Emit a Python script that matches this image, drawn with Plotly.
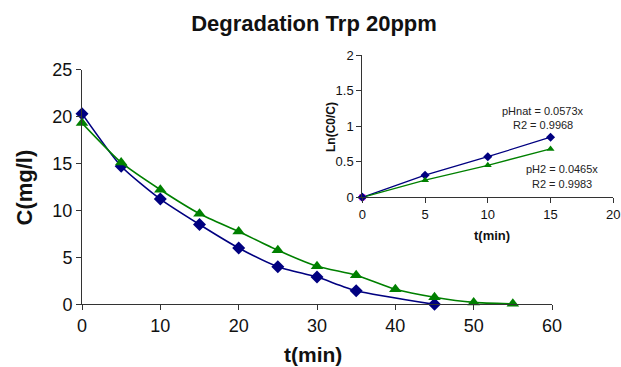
import plotly.graph_objects as go

# Main chart data
t_nat = [0, 5, 10, 15, 20, 25, 30, 35, 45]
c_nat = [20.3, 14.7, 11.2, 8.5, 6.0, 4.0, 2.9, 1.45, 0.0]
t_ph2 = [0, 5, 10, 15, 20, 25, 30, 35, 40, 45, 50, 55]
c_ph2 = [19.3, 15.1, 12.2, 9.65, 7.75, 5.75, 4.05, 3.1, 1.6, 0.75, 0.2, 0.05]

# Inset data
ti = [0, 5, 10, 15]
ln_nat = [0.0, 0.31, 0.57, 0.845]
ln_ph2 = [0.0, 0.24, 0.45, 0.68]
t_origin = [0]
ln_origin = [0]

main_xticks = [0, 10, 20, 30, 40, 50, 60]
main_yticks = [0, 5, 10, 15, 20, 25]
inset_xticks = [0, 5, 10, 15, 20]
inset_yticks = [0, 0.5, 1, 1.5, 2]

BLUE = "#000080"
GREEN = "#008000"
FONT = "Liberation Sans, Arial, sans-serif"
W, H = 621, 367

fig = go.Figure()
fig.add_trace(go.Scatter(x=t_nat, y=c_nat, mode="lines+markers",
                         line=dict(color=BLUE, width=1.6, shape="spline", smoothing=0.6),
                         marker=dict(symbol="diamond", size=10, color=BLUE),
                         xaxis="x", yaxis="y", showlegend=False, cliponaxis=False))
fig.add_trace(go.Scatter(x=t_ph2, y=c_ph2, mode="lines+markers",
                         line=dict(color=GREEN, width=1.6, shape="spline", smoothing=0.6),
                         marker=dict(symbol="triangle-up", size=11, color=GREEN),
                         xaxis="x", yaxis="y", showlegend=False, cliponaxis=False))

fig.add_trace(go.Scatter(x=ti, y=ln_nat, mode="lines+markers",
                         line=dict(color=BLUE, width=1.3),
                         marker=dict(symbol="diamond", size=7, color=BLUE),
                         xaxis="x2", yaxis="y2", showlegend=False, cliponaxis=False))
fig.add_trace(go.Scatter(x=ti, y=ln_ph2, mode="lines+markers",
                         line=dict(color=GREEN, width=1.3),
                         marker=dict(symbol="triangle-up", size=7, color=GREEN),
                         xaxis="x2", yaxis="y2", showlegend=False, cliponaxis=False))
fig.add_trace(go.Scatter(x=t_origin, y=ln_origin, mode="markers",
                         marker=dict(symbol="square", size=6, color="#FF00FF"),
                         xaxis="x2", yaxis="y2", showlegend=False, cliponaxis=False))
fig.add_trace(go.Scatter(x=t_origin, y=ln_origin, mode="markers",
                         marker=dict(symbol="diamond", size=7, color=BLUE),
                         xaxis="x2", yaxis="y2", showlegend=False, cliponaxis=False))

axis_common = dict(showgrid=False, zeroline=False, showline=True, linecolor="#333333",
                   linewidth=1, ticks="outside", tickcolor="#333333", ticklen=5,
                   automargin=False)

fig.update_layout(
    width=W, height=H,
    margin=dict(l=0, r=0, t=0, b=0),
    paper_bgcolor="white", plot_bgcolor="rgba(0,0,0,0)",
    font=dict(family=FONT, color="#111111"),
    title=dict(text="<b>Degradation Trp 20ppm</b>", x=314/W, xanchor="center",
               y=(H-23)/H, yanchor="middle", font=dict(size=22, family=FONT, color="#111111")),
    xaxis=dict(domain=[82/W, 552/W], range=[0, 60], tickvals=main_xticks,
               tickfont=dict(size=18), anchor="y", **axis_common),
    yaxis=dict(domain=[(H-304.3)/H, (H-69.5)/H], range=[0, 25], tickvals=main_yticks,
               tickfont=dict(size=18), anchor="x", **axis_common),
    xaxis2=dict(domain=[362.3/W, 613.3/W], range=[0, 20], tickvals=inset_xticks,
                tickfont=dict(size=13), anchor="y2", **axis_common),
    yaxis2=dict(domain=[(H-197.3)/H, (H-55)/H], range=[0, 2], tickvals=inset_yticks,
                tickfont=dict(size=13), anchor="x2", **axis_common),
)

# axis titles
titles = [("<b>t(min)</b>", 313, 354, 21, 0), ("<b>C(mg/l)</b>", 23.5, 188, 22, -90),
          ("<b>t(min)</b>", 492, 235, 13, 0), ("<b>Ln(C0/C)</b>", 331, 127, 12, -90)]
for txt, xx, yy, sz, ang in titles:
    fig.add_annotation(text=txt, x=xx/W, y=(H-yy)/H, xref="paper", yref="paper",
                       showarrow=False, xanchor="center", yanchor="middle", textangle=ang,
                       borderpad=0, font=dict(size=sz, family=FONT, color="#111111"))

for txt, xx, yy in [("pHnat = 0.0573x", 543, 111), ("R2 = 0.9968", 543, 125),
                    ("pH2 = 0.0465x", 562, 169), ("R2 = 0.9983", 562, 184)]:
    fig.add_annotation(text=txt, x=xx/W, y=(H-yy)/H, xref="paper", yref="paper",
                       showarrow=False, xanchor="center", yanchor="middle",
                       font=dict(size=11, family=FONT, color="#222222"))

fig.write_html("out.html")
